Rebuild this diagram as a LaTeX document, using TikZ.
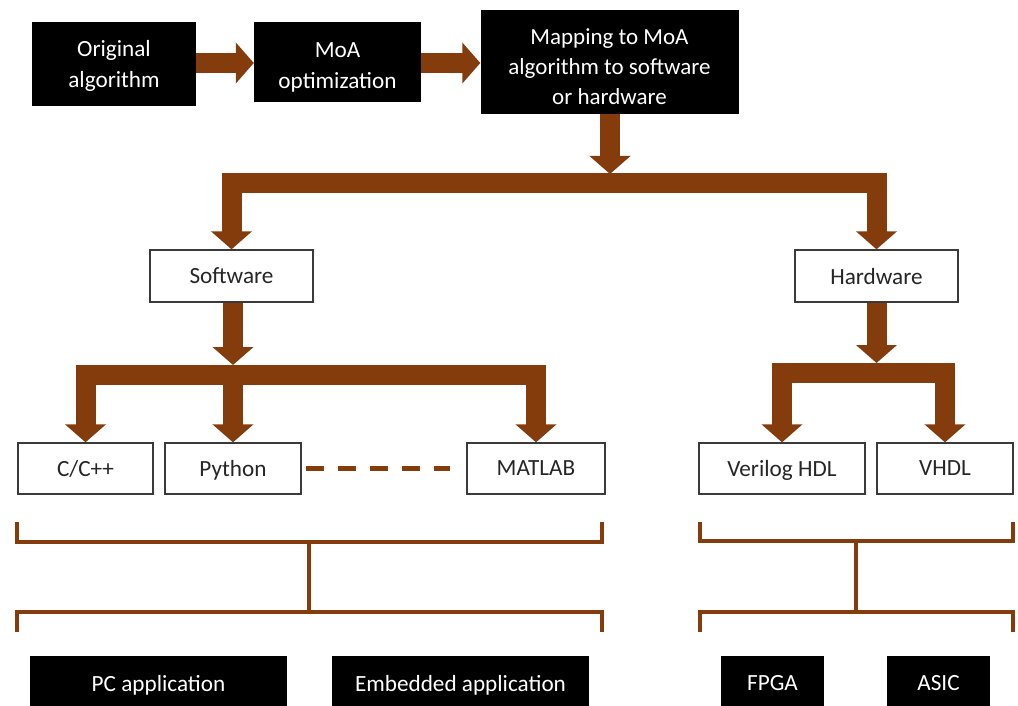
\documentclass[tikz,border=0pt]{standalone}
\usepackage{fontspec}
\setmainfont{Carlito}
\usetikzlibrary{arrows.meta}
\definecolor{rust}{HTML}{843C0C}
\definecolor{edge}{HTML}{3A3A3A}
\definecolor{ink}{HTML}{262626}
% invisible strut that lowers a multi-line label inside its box
\newcommand{\lowerby}[1]{\rule{0pt}{#1}}
\tikzset{
  darkbox/.style={fill=black, text=white, inner sep=0pt, align=center, text depth=0pt,
    font=\fontsize{23.2}{31}\selectfont},
  lightbox/.style={draw=edge, line width=1.3pt, fill=white, text=ink, inner sep=0pt,
    align=center, text depth=0pt, font=\fontsize{23.2}{30}\selectfont},
  fat/.style={draw=rust, line width=20pt, line join=miter},
  fattip/.style={fat, -{Triangle[width=40pt,length=18pt]}},
  fatboth/.style={fat, {Triangle[width=40pt,length=18pt]}-{Triangle[width=40pt,length=18pt]}},
  brk/.style={draw=rust, line width=3.5pt, line join=miter},
  dashlink/.style={draw=rust, line width=4.5pt, dash pattern=on 18pt off 14pt}
}
\begin{document}
\begin{tikzpicture}[x=1pt, y=-1pt]
\useasboundingbox[fill=white] (0,0) rectangle (1018,706);

% top row
\node[darkbox, minimum width=164pt, minimum height=84pt] (orig) at (114,64) {Original\\algorithm};
\node[darkbox, minimum width=167pt, minimum height=80pt] (moa) at (337.5,62) {\lowerby{23pt}MoA\\optimization};
\node[darkbox, minimum width=258pt, minimum height=104pt, font=\fontsize{23}{30}\selectfont]
  (map) at (609.5,62) {\lowerby{26pt}Mapping to MoA\\algorithm to software\\or hardware};

% software / hardware
\node[lightbox, minimum width=163pt, minimum height=52pt] (sw) at (231.5,276) {Software};
\node[lightbox, minimum width=163pt, minimum height=52pt] (hw) at (876.5,276) {Hardware};

% languages
\node[lightbox, minimum width=135pt, minimum height=51pt] (cpp) at (85.5,468.5) {C/C++};
\node[lightbox, minimum width=136pt, minimum height=51pt] (py) at (233,468.5) {Python};
\node[lightbox, minimum width=138pt, minimum height=51pt] (mat) at (536,468.5) {MATLAB};
\node[lightbox, minimum width=166pt, minimum height=51pt] (vl) at (782,468.5) {Verilog HDL};
\node[lightbox, minimum width=136pt, minimum height=51pt] (vh) at (945,468.5) {VHDL};

% targets
\node[darkbox, minimum width=257pt, minimum height=54pt] (pc) at (158.5,683) {PC application};
\node[darkbox, minimum width=257pt, minimum height=54pt] (emb) at (460.5,683) {Embedded application};
\node[darkbox, minimum width=103pt, minimum height=54pt] (fpga) at (772.5,683) {FPGA};
\node[darkbox, minimum width=103pt, minimum height=54pt] (asic) at (938.5,683) {ASIC};

% flow along the top row
\draw[fattip] (orig.east |- 0,63) -- (moa.west |- 0,63);
\draw[fattip] (moa.east |- 0,63) -- (map.west |- 0,63);

% split into software and hardware
\coordinate (topbar) at (610,183);
\coordinate (topbarin) at (610,174);
\draw[fattip] (map.south -| topbar) -- (topbarin);
\draw[fatboth] (sw.north) |- (topbar) -| (hw.north);

% software languages
\coordinate (swbar) at (233,375);
\coordinate (swbarin) at (233,365);
\draw[fattip] (sw.south -| swbarin) -- (swbarin);
\draw[fatboth] (cpp.north) |- (swbar) -| (mat.north);
\draw[fattip] (swbar) -- (py.north);
\draw[dashlink, shorten <=4pt, shorten >=16pt] (py.east) -- (mat.west);

% hardware languages
\coordinate (hwbar) at (876.5,373);
\coordinate (hwbarin) at (876.5,363);
\draw[fattip] (hw.south) -- (hwbarin);
\draw[fatboth] (vl.north) |- (hwbar) -| (vh.north);

% brackets gathering the software targets
\coordinate (sUL) at (17,522);
\coordinate (sUR) at (602,522);
\coordinate (sUM) at (309,542);
\coordinate (sLM) at (309,612);
\coordinate (sLL) at (17,632);
\coordinate (sLR) at (602,632);
\draw[brk] (sUL) |- (sUM) -| (sUR);
\draw[brk] (sUM) -- (sLM);
\draw[brk] (sLL) |- (sLM) -| (sLR);

% brackets gathering the hardware targets
\coordinate (hUL) at (700,522);
\coordinate (hUR) at (1013,522);
\coordinate (hUM) at (856,541);
\coordinate (hLM) at (856,612);
\coordinate (hLL) at (700,632);
\coordinate (hLR) at (1013,632);
\draw[brk] (hUL) |- (hUM) -| (hUR);
\draw[brk] (hUM) -- (hLM);
\draw[brk] (hLL) |- (hLM) -| (hLR);
\end{tikzpicture}
\end{document}
